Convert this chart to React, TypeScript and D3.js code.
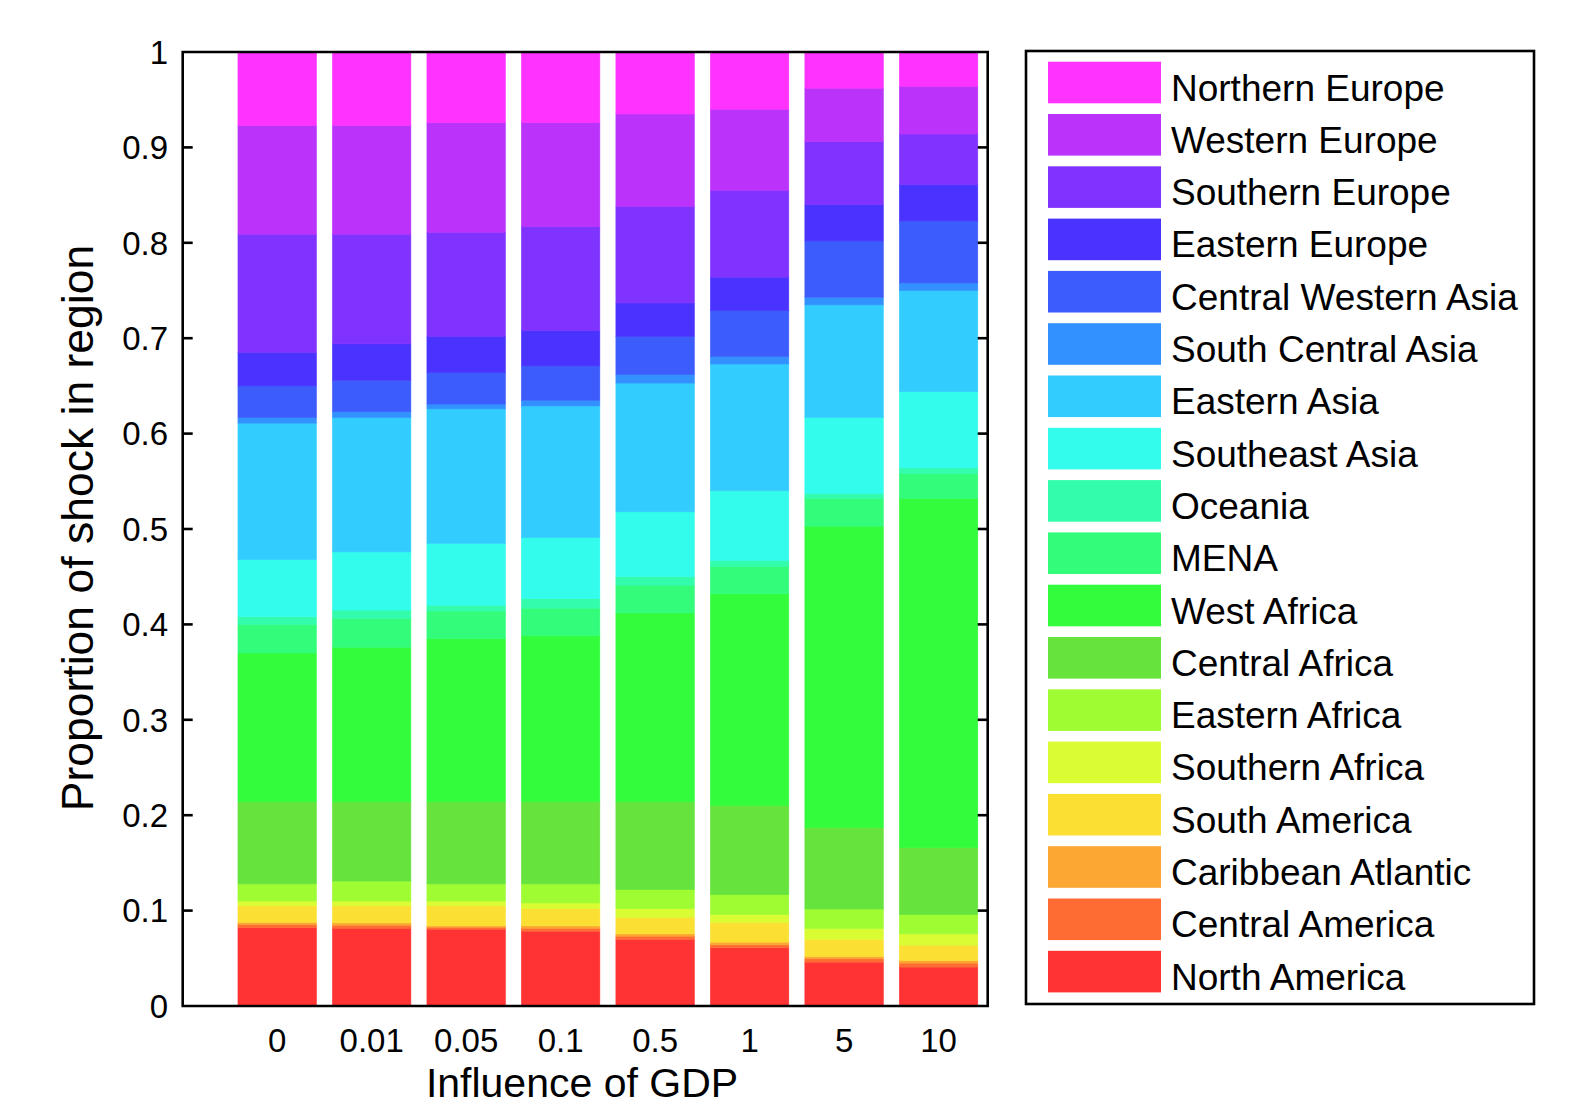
import React from "react";
import * as d3 from "d3";

const categories = ["0", "0.01", "0.05", "0.1", "0.5", "1", "5", "10"];

// bottom-to-top stacking order
const regions = [
  "North America",
  "Central America",
  "Caribbean Atlantic",
  "South America",
  "Southern Africa",
  "Eastern Africa",
  "Central Africa",
  "West Africa",
  "MENA",
  "Oceania",
  "Southeast Asia",
  "Eastern Asia",
  "South Central Asia",
  "Central Western Asia",
  "Eastern Europe",
  "Southern Europe",
  "Western Europe",
  "Northern Europe",
];

const northAmerica = [0.082, 0.0815, 0.0805, 0.0784, 0.0697, 0.061, 0.046, 0.0408];
const centralAmerica = [0.0034, 0.0032, 0.0021, 0.0031, 0.0035, 0.0031, 0.0035, 0.0042];
const caribbeanAtlantic = [0.0024, 0.0024, 0.0014, 0.0025, 0.0024, 0.0028, 0.0024, 0.0027];
const southAmerica = [0.0172, 0.0179, 0.021, 0.018, 0.0174, 0.0206, 0.0178, 0.0161];
const southernAfrica = [0.005, 0.005, 0.005, 0.006, 0.009, 0.0083, 0.0115, 0.0118];
const easternAfrica = [0.018, 0.021, 0.018, 0.02, 0.02, 0.0209, 0.0205, 0.0202];
const centralAfrica = [0.086, 0.083, 0.086, 0.086, 0.092, 0.0933, 0.0853, 0.0702];
const westAfrica = [0.156, 0.162, 0.171, 0.174, 0.198, 0.222, 0.316, 0.366];
const mena = [0.03, 0.03, 0.029, 0.029, 0.029, 0.029, 0.029, 0.026];
const oceania = [0.008, 0.009, 0.006, 0.01, 0.009, 0.006, 0.005, 0.006];
const southeastAsia = [0.06, 0.061, 0.065, 0.064, 0.068, 0.073, 0.08, 0.08];
const easternAsia = [0.143, 0.141, 0.141, 0.138, 0.135, 0.133, 0.118, 0.106];
const southCentralAsia = [0.006, 0.006, 0.005, 0.006, 0.009, 0.008, 0.008, 0.008];
const centralWesternAsia = [0.033, 0.033, 0.033, 0.036, 0.04, 0.048, 0.059, 0.065];
const easternEurope = [0.035, 0.038, 0.038, 0.037, 0.035, 0.035, 0.038, 0.038];
const southernEurope = [0.124, 0.115, 0.109, 0.109, 0.101, 0.091, 0.066, 0.053];
const westernEurope = [0.114, 0.114, 0.115, 0.109, 0.097, 0.085, 0.056, 0.05];
const northernEurope = [0.077, 0.077, 0.074, 0.074, 0.065, 0.06, 0.038, 0.036];

const seriesValues = [
  northAmerica,
  centralAmerica,
  caribbeanAtlantic,
  southAmerica,
  southernAfrica,
  easternAfrica,
  centralAfrica,
  westAfrica,
  mena,
  oceania,
  southeastAsia,
  easternAsia,
  southCentralAsia,
  centralWesternAsia,
  easternEurope,
  southernEurope,
  westernEurope,
  northernEurope,
];

const colors = [
  "#FF3333",
  "#FF6C33",
  "#FCA633",
  "#FCDF33",
  "#D9FC33",
  "#9FFC33",
  "#66E33D",
  "#33FC3D",
  "#33FC7A",
  "#33FCAC",
  "#33FCEC",
  "#33CCFF",
  "#3390FF",
  "#3D5CFC",
  "#4A33FF",
  "#8033FF",
  "#BB33FA",
  "#FF33FF",
];

const yTicks = [0, 0.1, 0.2, 0.3, 0.4, 0.5, 0.6, 0.7, 0.8, 0.9, 1];
const yTickLabels = ["0", "0.1", "0.2", "0.3", "0.4", "0.5", "0.6", "0.7", "0.8", "0.9", "1"];

const FONT = "'Liberation Sans', Arial, Helvetica, sans-serif";

export default function App() {
  const W = 1573;
  const H = 1107;
  const left = 182.7;
  const right = 987.7;
  const top = 52;
  const bottom = 1006;

  const x = d3.scaleLinear().domain([0, 8.52]).range([left, right]);
  const y = d3.scaleLinear().domain([0, 1]).range([bottom, top]);
  const barW = x(0.83) - x(0);

  const rows = categories.map((c, i) => {
    const r: any = { cat: c };
    regions.forEach((reg, k) => (r[reg] = seriesValues[k][i]));
    return r;
  });
  const stacked = d3.stack().keys(regions)(rows as any);

  // legend
  const lgX = 1026;
  const lgY = 51;
  const lgW = 508;
  const lgH = 953;
  const step = 52.3;
  const firstCenter = 82.5;
  const legendOrder = regions.map((r, k) => ({ name: r, color: colors[k] })).reverse();

  return (
    <svg
      width={W}
      height={H}
      style={{ position: "absolute", left: 0, top: 0, background: "#fff" }}
      fontFamily={FONT}
    >
      <rect x={0} y={0} width={W} height={H} fill="#fff" />
      {/* bars */}
      {stacked.map((layer, k) => (
        <g key={regions[k]}>
          {layer.map((d, i) => (
            <rect
              key={i}
              x={x(i + 1) - barW / 2}
              y={y(d[1])}
              width={barW}
              height={Math.max(0, y(d[0]) - y(d[1]))}
              fill={colors[k]}
              stroke={colors[k]}
              strokeWidth={0.6}
            />
          ))}
        </g>
      ))}
      {/* axes box */}
      <path
        d={`M${left},${top} H${right} V${bottom} H${left} Z`}
        fill="none"
        stroke="#000"
        strokeWidth={2.6}
      />
      {yTicks.map((t, i) => (
        <g key={i}>
          {t > 0 && t < 1 && (
            <>
              <line x1={left} x2={left + 10} y1={y(t)} y2={y(t)} stroke="#000" strokeWidth={2.6} />
              <line x1={right} x2={right - 10} y1={y(t)} y2={y(t)} stroke="#000" strokeWidth={2.6} />
            </>
          )}
          <text x={168} y={y(t) + 11.8} textAnchor="end" fontSize={33} fill="#000">
            {yTickLabels[i]}
          </text>
        </g>
      ))}
      {categories.map((c, i) => (
        <text key={c} x={x(i + 1)} y={1052} textAnchor="middle" fontSize={33} fill="#000">
          {c}
        </text>
      ))}
      <text x={582} y={1097} textAnchor="middle" fontSize={41} fill="#000">
        Influence of GDP
      </text>
      <text
        transform={`translate(93,528) rotate(-90)`}
        textAnchor="middle"
        fontSize={44.5}
        fill="#000"
      >
        Proportion of shock in region
      </text>
      {/* legend */}
      <rect x={lgX} y={lgY} width={lgW} height={lgH} fill="#fff" stroke="#000" strokeWidth={2.6} />
      {legendOrder.map((e, j) => {
        const cy = firstCenter + j * step;
        return (
          <g key={e.name}>
            <rect x={1048} y={cy - 20.8} width={113} height={41.6} fill={e.color} />
            <text x={1171} y={cy + 18} fontSize={37} fill="#000">
              {e.name}
            </text>
          </g>
        );
      })}
    </svg>
  );
}
